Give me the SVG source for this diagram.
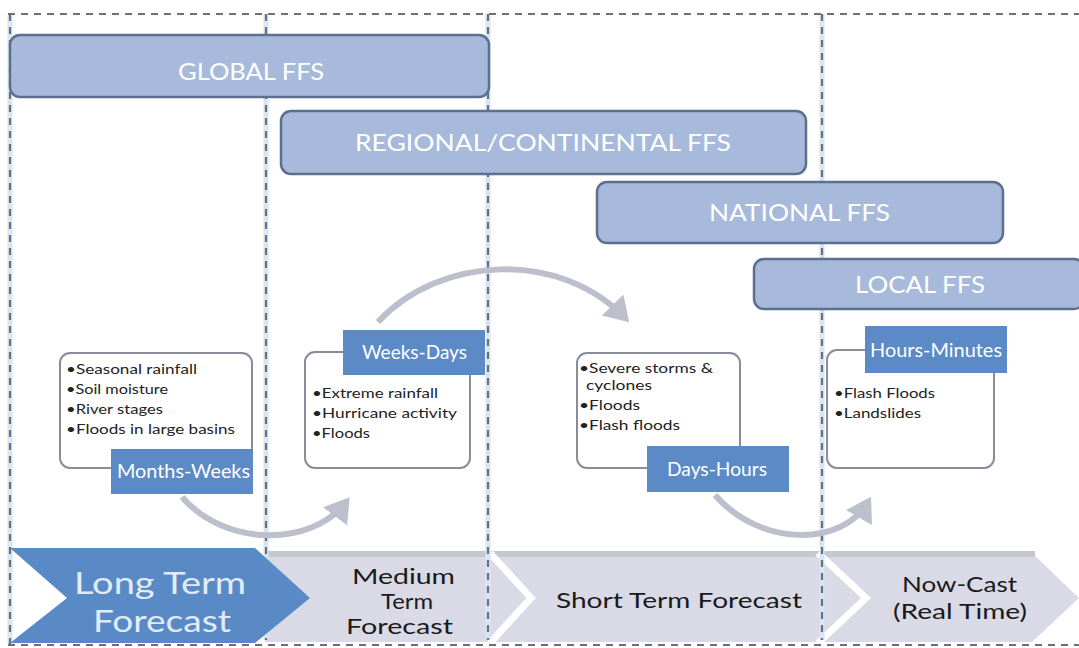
<svg xmlns="http://www.w3.org/2000/svg" width="1079" height="648" viewBox="0 0 1079 648">
<style>
.ffs{fill:#a7badb;stroke:#5d6f8f;stroke-width:2.5}
.ffst{font-family:Lato,"Liberation Sans",sans-serif;font-size:24px;fill:#ffffff}
.box{fill:#ffffff;stroke:#8a8c9c;stroke-width:2}
.lab{fill:#5b8ac6}
.labt{font-family:Lato,"Liberation Sans",sans-serif;font-size:19px;fill:#ffffff}
.item{font-family:Lato,"Liberation Sans",sans-serif;font-size:14px;fill:#222222}
.glow{stroke:#d6e6f4;stroke-width:5;fill:none}
.dash{stroke:#6e7079;stroke-width:2.2;stroke-dasharray:7,6;fill:none}
.arc{fill:none;stroke:#bcbfcc;stroke-width:6}
.big{font-family:Lato,"Liberation Sans",sans-serif;fill:#1a1a1a;font-size:21px}
.lt{font-family:Lato,"Liberation Sans",sans-serif;font-size:31px;fill:#e2ecf8}
.gap{fill:none;stroke:#ffffff;stroke-width:7}
</style>
<defs>
<marker id="ah" markerWidth="5" markerHeight="5" refX="3" refY="2.5" orient="auto" markerUnits="strokeWidth">
<path d="M0,0 L4,2.5 L0,5 z" fill="#bcbfcc"/>
</marker>
</defs>
<rect width="1079" height="648" fill="#ffffff"/>

<!-- bottom band -->
<g id="band">
<polygon points="265,553 1032,553 1079,598 1032,642 265,642" fill="#d9dae6"/>
<rect x="265" y="551" width="770" height="6" fill="#c6c8d1"/>
<polyline class="gap" points="490,553 531,598 490,643"/>
<polyline class="gap" points="818,553 866,598 818,643"/>
</g>

<!-- grid -->
<g id="grid">
<line class="glow" x1="10" y1="14" x2="10" y2="645"/>
<line class="glow" x1="266" y1="14" x2="266" y2="640"/>
<line class="glow" x1="488" y1="14" x2="488" y2="640"/>
<line class="glow" x1="822" y1="14" x2="822" y2="640"/>
<line class="dash" x1="8" y1="14" x2="1079" y2="14"/>
<line class="dash" x1="8" y1="645" x2="1079" y2="645"/>
<line class="dash" x1="10" y1="14" x2="10" y2="645"/>
<line class="dash" x1="266" y1="14" x2="266" y2="640"/>
<line class="dash" x1="488" y1="14" x2="488" y2="640"/>
<line class="dash" x1="822" y1="14" x2="822" y2="640"/>
</g>

<g id="long-term">
<polygon points="10,548 255,548 310,598 255,643 10,643 67,598" fill="#5a8ac6"/>
<text class="lt" x="74" y="594" textLength="172" lengthAdjust="spacingAndGlyphs">Long Term</text>
<text class="lt" x="93" y="632" textLength="138" lengthAdjust="spacingAndGlyphs">Forecast</text>
</g>
<g id="medium-term">
<text class="big" x="352" y="584" textLength="103" lengthAdjust="spacingAndGlyphs">Medium</text>
<text class="big" x="381" y="609" textLength="52" lengthAdjust="spacingAndGlyphs">Term</text>
<text class="big" x="346" y="634" textLength="107" lengthAdjust="spacingAndGlyphs">Forecast</text>
</g>
<g id="short-term">
<text class="big" x="556" y="608" textLength="246" lengthAdjust="spacingAndGlyphs">Short Term Forecast</text>
</g>
<g id="now-cast">
<text class="big" x="902" y="592" textLength="115" lengthAdjust="spacingAndGlyphs">Now-Cast</text>
<text class="big" x="893" y="619" textLength="134" lengthAdjust="spacingAndGlyphs">(Real Time)</text>
</g>

<!-- FFS bars -->
<g id="global-ffs">
<rect class="ffs" x="10" y="35" width="479" height="62" rx="10"/>
<text class="ffst" x="178" y="80" textLength="146" lengthAdjust="spacingAndGlyphs">GLOBAL FFS</text>
</g>
<g id="regional-ffs">
<rect class="ffs" x="281" y="111" width="525" height="63" rx="10"/>
<text class="ffst" x="355" y="151" textLength="376" lengthAdjust="spacingAndGlyphs">REGIONAL/CONTINENTAL FFS</text>
</g>
<g id="national-ffs">
<rect class="ffs" x="597" y="182" width="406" height="61" rx="10"/>
<text class="ffst" x="709" y="221" textLength="181" lengthAdjust="spacingAndGlyphs">NATIONAL FFS</text>
</g>
<g id="local-ffs">
<rect class="ffs" x="754" y="259" width="330" height="50" rx="10"/>
<text class="ffst" x="855" y="293" textLength="130" lengthAdjust="spacingAndGlyphs">LOCAL FFS</text>
</g>

<!-- connectors -->
<g id="connectors">
<path class="arc" d="M182,497 C225,547 312,547 346,502" marker-end="url(#ah)"/>
<path class="arc" d="M378,322 C440,255 560,250 625,318" marker-end="url(#ah)"/>
<path class="arc" d="M715,495 C760,547 842,547 868,502" marker-end="url(#ah)"/>
</g>

<g id="months-weeks">
<rect class="box" x="60" y="353" width="192" height="115" rx="10"/>
<text class="item" x="66" y="374" textLength="131" lengthAdjust="spacingAndGlyphs">•Seasonal rainfall</text>
<text class="item" x="66" y="394" textLength="102" lengthAdjust="spacingAndGlyphs">•Soil moisture</text>
<text class="item" x="66" y="414" textLength="97" lengthAdjust="spacingAndGlyphs">•River stages</text>
<text class="item" x="66" y="434" textLength="169" lengthAdjust="spacingAndGlyphs">•Floods in large basins</text>
<rect class="lab" x="111" y="449" width="142" height="45"/>
<text class="labt" x="117" y="478" textLength="133" lengthAdjust="spacingAndGlyphs">Months-Weeks</text>
</g>
<g id="weeks-days">
<rect class="box" x="305" y="352" width="165" height="116" rx="10"/>
<rect class="lab" x="343" y="330" width="142" height="45"/>
<text class="labt" x="362" y="359" textLength="105" lengthAdjust="spacingAndGlyphs">Weeks-Days</text>
<text class="item" x="312" y="398" textLength="126" lengthAdjust="spacingAndGlyphs">•Extreme rainfall</text>
<text class="item" x="312" y="418" textLength="145" lengthAdjust="spacingAndGlyphs">•Hurricane activity</text>
<text class="item" x="312" y="438" textLength="58" lengthAdjust="spacingAndGlyphs">•Floods</text>
</g>
<g id="days-hours">
<rect class="box" x="577" y="353" width="163" height="115" rx="10"/>
<text class="item" x="579" y="373" textLength="134" lengthAdjust="spacingAndGlyphs">•Severe storms &amp;</text>
<text class="item" x="586" y="390" textLength="66" lengthAdjust="spacingAndGlyphs">cyclones</text>
<text class="item" x="579" y="410" textLength="61" lengthAdjust="spacingAndGlyphs">•Floods</text>
<text class="item" x="579" y="430" textLength="101" lengthAdjust="spacingAndGlyphs">•Flash floods</text>
<rect class="lab" x="647" y="446" width="142" height="46"/>
<text class="labt" x="667" y="476" textLength="100" lengthAdjust="spacingAndGlyphs">Days-Hours</text>
</g>
<g id="hours-minutes">
<rect class="box" x="827" y="350" width="167" height="118" rx="10"/>
<rect class="lab" x="865" y="326" width="142" height="47"/>
<text class="labt" x="870" y="357" textLength="132" lengthAdjust="spacingAndGlyphs">Hours-Minutes</text>
<text class="item" x="834" y="398" textLength="101" lengthAdjust="spacingAndGlyphs">•Flash Floods</text>
<text class="item" x="834" y="418" textLength="87" lengthAdjust="spacingAndGlyphs">•Landslides</text>
</g>
</svg>
